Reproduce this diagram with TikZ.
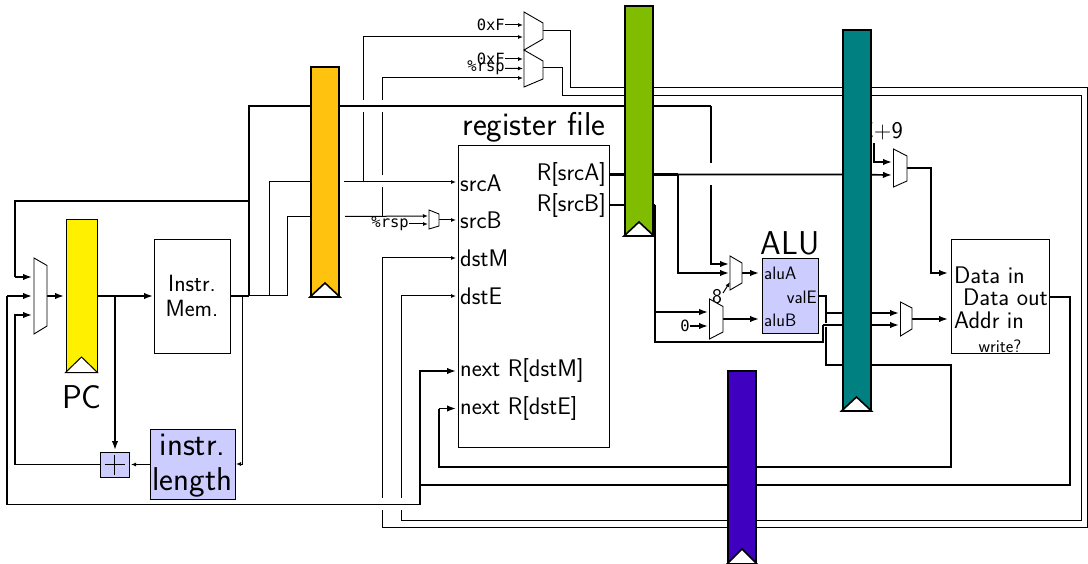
\documentclass[tikz,border=0pt]{standalone}
\usepackage{fontspec}
\newfontfamily\monolab{DejaVu Sans Mono}
\usetikzlibrary{arrows.meta}
\newcommand{\fsz}[1]{\fontsize{#1}{#1}\selectfont}
\definecolor{boxblue}{HTML}{CCCCFF}
\definecolor{pcyellow}{HTML}{FFF000}
\definecolor{orangereg}{HTML}{FFC20E}
\definecolor{greenreg}{HTML}{80BC00}
\definecolor{tealreg}{HTML}{008080}
\definecolor{purplereg}{HTML}{3F00BF}
\tikzset{
  thinw/.style={draw=black,line width=1pt,-{Latex[length=5pt,width=4pt]}},
  thinp/.style={draw=black,line width=1pt},
  medw/.style={draw=black,line width=1.7pt,-{Latex[length=9pt,width=6.5pt]}},
  medp/.style={draw=black,line width=1.7pt},
  bus/.style={draw=black,line width=2.5pt},
  block/.style={draw=black,line width=0.8pt,fill=white,rectangle,inner sep=0pt,align=center,font=\sffamily\fsz{23.5}},
  blueblock/.style={block,fill=boxblue},
  pipereg/.style={draw=black,line width=2pt,rectangle,inner sep=0pt,minimum width=28pt},
  clocktri/.style={draw=black,line width=1.6pt,fill=white,line join=miter},
  muxshape/.style={draw=black,line width=0.9pt,fill=white},
  lab/.style={inner sep=0pt,font=\sffamily\fsz{24}},
  biglab/.style={inner sep=0pt,font=\sffamily\fsz{33}},
  smlab/.style={inner sep=0pt,font=\sffamily\fsz{18}},
  ttlab/.style={inner sep=0pt,font=\monolab\fsz{15.5}},
}
\begin{document}
\begin{tikzpicture}[x=1pt,y=-1pt]
\useasboundingbox (0,0) rectangle (1088,564);
% named ports
\coordinate (imemout) at (231,296);
\coordinate (srcAin) at (456,182);
\coordinate (srcBin) at (456,220);
\coordinate (dstMin) at (456,258);
\coordinate (dstEin) at (456,296);
\coordinate (nextMin) at (456,371);
\coordinate (nextEin) at (456,408.5);
\coordinate (RA) at (609,174.5);
\coordinate (RB) at (609,205);
\coordinate (muxAa) at (729,264);
\coordinate (muxAb) at (729,273);
\coordinate (muxBa) at (708,312);
\coordinate (muxBb) at (708,326);
\coordinate (valE) at (819,296);
\coordinate (memDa) at (892,162);
\coordinate (memDb) at (892,175);
\coordinate (memAa) at (899,313);
\coordinate (memAb) at (899,325);
\coordinate (datain) at (948,273);
\coordinate (addrin) at (948,319);
\coordinate (dataout) at (1049,297);
\coordinate (mainA) at (32,277);
\coordinate (mainB) at (32,296);
\coordinate (mainC) at (32,315);
\coordinate (rspA) at (428,216);
\coordinate (rspB) at (428,224);
\coordinate (topAa) at (523,25);
\coordinate (topAb) at (523,37);
\coordinate (topBa) at (523,59);
\coordinate (topBb) at (523,68.5);
\coordinate (topBc) at (523,78);
% hidden label behind teal register
\node[lab,anchor=east] (pcnine) at (903,130.5) {PC+9};
% thin wires
\draw[thinp] (imemout) -- (269,296) -- (269,182) -- (311,182);
\draw[thinw] (344,182) -- (srcAin);
\draw[thinw] (363,182) -- (363,112) (363,100) -- (363,37) -- (topAb);
\draw[thinp] (imemout) -- (287,296) -- (287,217) -- (311,217);
\draw[thinw] (345,216.5) -- (rspA);
\draw[thinw] (382,216) -- (382,187) (382,175) -- (382,112) (382,100) -- (382,78) -- (topBc);
\draw[thinw] (242,296) -- (242,464) -- (236,464);
\draw[thinw] (382,498) -- (382,258) -- (dstMin);
\draw[thinw] (401,498) -- (401,296) -- (dstEin);
\draw[thinp] (382,510) -- (382,527) -- (1087,527) -- (1087,88) -- (570,88) -- (570,31) -- (543,31);
\draw[thinp] (401,510) -- (401,520) -- (1081,520) -- (1081,95.5) -- (562,95.5) -- (562,68) -- (543,68);
% PC-path wires
\draw[bus] (imemout) -- (249,296);
\draw[bus] (249,296) -- (249,106) -- (711,106);
\draw[medp] (711,106) -- (711,163);
\draw[medw] (711,185) -- (711,264) -- (muxAa);
\draw[bus] (249,201) -- (15,201) -- (15,277);
\draw[medw] (15,277) -- (mainA);
\draw[medw] (47,296) -- (64,296);
\draw[medw] (97,296) -- (153,296);
\draw[medw] (115,296) -- (115,450);
\draw[medw] (100,464.5) -- (15,464.5) -- (15,315) -- (mainC);
\draw[thinw] (150,464.5) -- (131,464.5);
% execute wires
\draw[bus] (RA) -- (678,174.5);
\draw[medw] (678,174.5) -- (843,174.5) -- (memDb);
\draw[medw] (678,174.5) -- (678,273) -- (muxAb);
\draw[bus] (RB) -- (655,205);
\draw[medw] (655,205) -- (655,312) -- (muxBa);
\draw[medw] (valE) -- (826,296) -- (826,313) -- (memAa);
\draw[medp] (826,313) -- (826,365) -- (951,365) -- (951,467) -- (439,467) -- (439,408.5);
\draw[medw] (439,408.5) -- (nextEin);
\draw[white,line width=4pt] (823,340) -- (823,325) -- (843,325);
\draw[medp] (655,312) -- (655,342) -- (823,342) -- (823,325);
\draw[medw] (823,325) -- (memAb);
\draw[medw] (874,143) -- (874,162) -- (memDa);
\draw[medw] (907,168) -- (931,168) -- (931,273) -- (datain);
\draw[medw] (912,319) -- (addrin);
\draw[medw] (723,319) -- (759,319);
\draw[medw] (742,273) -- (759,273);
\draw[bus] (dataout) -- (1070,297) -- (1070,485) -- (420,485);
\draw[medw] (420,485) -- (420,371) -- (nextMin);
\draw[medp] (420,485) -- (420,504.5) -- (7,504.5) -- (7,296);
\draw[medw] (7,296) -- (mainB);
% small labelled inputs
\node[ttlab,anchor=east] (zeroA) at (505,25) {0xF};
\node[ttlab,anchor=east] (zeroB) at (505,59) {0xF};
\node[ttlab,anchor=east] (rspT) at (505,68) {\%rsp};
\node[ttlab,anchor=east] (rspL) at (409,224) {\%rsp};
\node[ttlab,anchor=east] (zeroC) at (690,326) {0};
\node[lab,font=\sffamily\fsz{21}] (eight) at (717,297) {8};
\draw[thinw] (zeroA) -- (topAa);
\draw[thinw] (zeroB) -- (topBa);
\draw[thinw] (rspT) -- (topBb);
\draw[thinw] (rspL) -- (rspB);
\draw[medw] (zeroC) -- (muxBb);
\draw[thinw] (723,293) -- (730,282);
\draw[thinw] (439,220) -- (srcBin);
% multiplexers
\draw[muxshape] (34,258) -- (47,265.5) -- (47,326) -- (34,334) -- cycle;
\draw[muxshape] (524,12) -- (543,23) -- (543,39) -- (524,50) -- cycle;
\draw[muxshape] (524,50) -- (543,61) -- (543,79) -- (524,87) -- cycle;
\draw[muxshape] (429,210) -- (439,214) -- (439,226) -- (429,229) -- cycle;
\draw[muxshape] (730,256) -- (742,263) -- (742,283) -- (730,290) -- cycle;
\draw[muxshape] (709.5,299) -- (723,306.5) -- (723,332) -- (709.5,339) -- cycle;
\draw[muxshape] (893.5,149) -- (907,156) -- (907,181) -- (893.5,187) -- cycle;
\draw[muxshape] (900.5,302) -- (912,308) -- (912,329) -- (900.5,336) -- cycle;
% blocks
\node[block,minimum width=76pt,minimum height=114pt] (imem) at (192,296) {Instr.\\[1pt]Mem.};
\node[blueblock,minimum width=85pt,minimum height=70pt] (ilen) at (192.5,464) {};
\node[inner sep=0pt,align=center,font=\sffamily\fsz{33}] (lilen) at (192.5,466) {instr.\\[2pt]length};
\node[blueblock,minimum width=29pt,minimum height=25pt] (adder) at (114.5,464.5) {};
\draw[line width=0.8pt] (adder.center) ++(-10,0) -- ++(20,0) (adder.center) ++(0,-10) -- ++(0,20);
\node[block,minimum width=151pt,minimum height=302pt] (regfile) at (533.5,296) {};
\node[blueblock,minimum width=56pt,minimum height=75pt] (alu) at (790,295.5) {};
\node[block,minimum width=98pt,minimum height=114pt] (dmem) at (1000,296) {};
% block labels
\node[biglab] (lregfile) at (534,127.5) {register file};
\node[lab,anchor=west] (lsrcA) at (460,183) {srcA};
\node[lab,anchor=west] (lsrcB) at (460,220) {srcB};
\node[lab,anchor=west] (ldstM) at (460,258) {dstM};
\node[lab,anchor=west] (ldstE) at (460,296) {dstE};
\node[lab,anchor=west] (lnextM) at (460,371) {next R[dstM]};
\node[lab,anchor=west] (lnextE) at (460,408) {next R[dstE]};
\node[lab,anchor=east] (lRA) at (606,175) {R[srcA]};
\node[lab,anchor=east] (lRB) at (606,206) {R[srcB]};
\node[biglab] (lalu) at (790,243) {ALU};
\node[smlab,anchor=west] (laluA) at (764,273) {aluA};
\node[smlab,anchor=west] (laluB) at (764,320) {aluB};
\node[smlab,anchor=east] (lvalE) at (817,297) {valE};
\node[lab,anchor=west] (ldatain) at (954,275) {Data in};
\node[lab,anchor=west] (ldataout) at (963,297) {Data out};
\node[lab,anchor=west] (laddrin) at (954,320) {Addr in};
\node[smlab] (lwrite) at (1000,346) {write?};
\node[biglab] (lpc) at (82,397) {PC};
% pipeline registers
\node[pipereg,line width=1pt,fill=pcyellow,minimum width=31pt,minimum height=152pt] (pcreg) at (81.5,296) {};
\node[pipereg,fill=orangereg,minimum height=229pt] (fd) at (325,181.5) {};
\node[pipereg,fill=greenreg,minimum height=229pt] (de) at (639,120.5) {};
\node[pipereg,fill=tealreg,minimum height=380pt] (em) at (856.5,220) {};
\node[pipereg,fill=purplereg,minimum height=192pt] (mw) at (742,467) {};
\draw[clocktri,line width=1pt] (pcreg.south west) -- (81.5,357) -- (pcreg.south east) -- cycle;
\draw[clocktri] (fd.south west) -- (325,283) -- (fd.south east) -- cycle;
\draw[clocktri] (de.south west) -- (639,222) -- (de.south east) -- cycle;
\draw[clocktri] (em.south west) -- (856.5,397) -- (em.south east) -- cycle;
\draw[clocktri] (mw.south west) -- (742,549) -- (mw.south east) -- cycle;
\end{tikzpicture}
\end{document}
